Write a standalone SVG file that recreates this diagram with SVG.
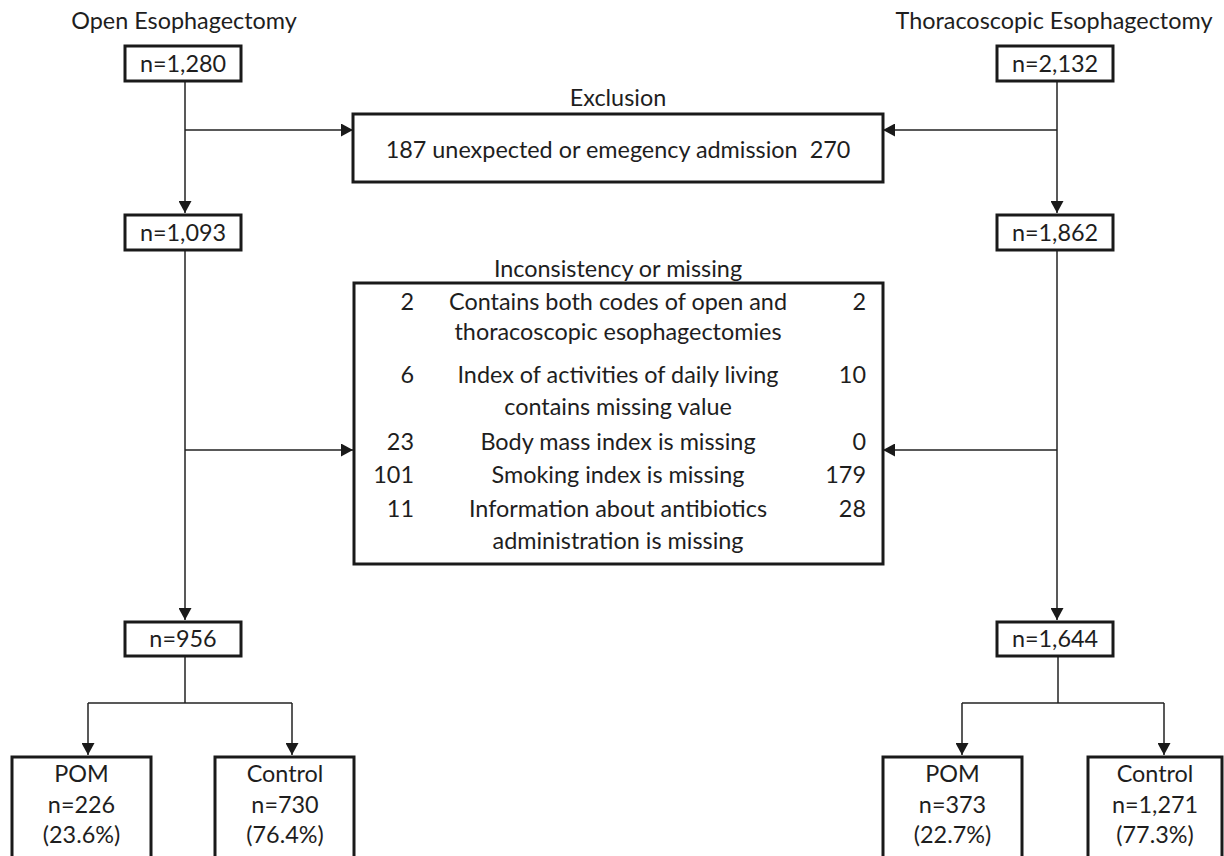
<svg xmlns="http://www.w3.org/2000/svg" width="1224" height="856" viewBox="0 0 1224 856">
<style>
text{font-family:Lato,"Noto Sans",sans-serif;font-size:23.4px;fill:#1e1e1e;}
.c{text-anchor:middle;}
.e{text-anchor:end;}
.box{fill:#fff;stroke:#1a1a1a;stroke-width:3;}
.ln{fill:none;stroke:#222;stroke-width:1.5;}
</style>
<defs>
<marker id="ah" markerUnits="userSpaceOnUse" markerWidth="12" markerHeight="13" refX="12" refY="6.5" orient="auto">
<path d="M0,0 L12,6.5 L0,13 z" fill="#1a1a1a"/>
</marker>
</defs>
<rect width="1224" height="856" fill="#fff"/>
<g id="connectors">
<path class="ln" d="M185,81 V213" marker-end="url(#ah)"/>
<path class="ln" d="M185,130 H353" marker-end="url(#ah)"/>
<path class="ln" d="M1057,81 V213" marker-end="url(#ah)"/>
<path class="ln" d="M1057,130 H883" marker-end="url(#ah)"/>
<path class="ln" d="M185,250 V620" marker-end="url(#ah)"/>
<path class="ln" d="M185,450 H353" marker-end="url(#ah)"/>
<path class="ln" d="M1057,250 V620" marker-end="url(#ah)"/>
<path class="ln" d="M1057,450 H883" marker-end="url(#ah)"/>
<path class="ln" d="M185,656 V703"/>
<path class="ln" d="M88,703 H292"/>
<path class="ln" d="M88,703 V755" marker-end="url(#ah)"/>
<path class="ln" d="M292,703 V755" marker-end="url(#ah)"/>
<path class="ln" d="M1058,656 V703"/>
<path class="ln" d="M962,703 H1164"/>
<path class="ln" d="M962,703 V755" marker-end="url(#ah)"/>
<path class="ln" d="M1164,703 V755" marker-end="url(#ah)"/>
</g>
<g id="label-open"><text class="c" x="184" y="29">Open Esophagectomy</text></g>
<g id="label-thoraco"><text class="c" x="1054" y="29">Thoracoscopic Esophagectomy</text></g>
<g id="open-1280"><rect class="box" x="125" y="46" width="116" height="35"/><text class="c" x="183" y="72">n=1,280</text></g>
<g id="thoraco-2132"><rect class="box" x="997" y="46" width="116" height="35"/><text class="c" x="1055" y="72">n=2,132</text></g>
<g id="exclusion">
<text class="c" x="618" y="106">Exclusion</text>
<rect class="box" x="353" y="114" width="530" height="68"/>
<text class="c" x="618" y="158" xml:space="preserve">187 unexpected or emegency admission  270</text>
</g>
<g id="open-1093"><rect class="box" x="125" y="215" width="116" height="35"/><text class="c" x="183" y="241">n=1,093</text></g>
<g id="thoraco-1862"><rect class="box" x="997" y="215" width="116" height="35"/><text class="c" x="1055" y="241">n=1,862</text></g>
<g id="inconsistency">
<text class="c" x="618" y="277">Inconsistency or missing</text>
<rect class="box" x="354" y="283" width="529" height="281"/>
<text class="e" x="414" y="310">2</text><text class="c" x="618" y="310">Contains both codes of open and</text><text class="e" x="866" y="310">2</text>
<text class="c" x="618" y="340">thoracoscopic esophagectomies</text>
<text class="e" x="414" y="383">6</text><text class="c" x="618" y="383">Index of activities of daily living</text><text class="e" x="866" y="383">10</text>
<text class="c" x="618" y="415">contains missing value</text>
<text class="e" x="414" y="450">23</text><text class="c" x="618" y="450">Body mass index is missing</text><text class="e" x="866" y="450">0</text>
<text class="e" x="414" y="483">101</text><text class="c" x="618" y="483">Smoking index is missing</text><text class="e" x="866" y="483">179</text>
<text class="e" x="414" y="517">11</text><text class="c" x="618" y="517">Information about antibiotics</text><text class="e" x="866" y="517">28</text>
<text class="c" x="618" y="549">administration is missing</text>
</g>
<g id="open-956"><rect class="box" x="125" y="622" width="116" height="34"/><text class="c" x="183" y="647">n=956</text></g>
<g id="thoraco-1644"><rect class="box" x="997" y="622" width="116" height="34"/><text class="c" x="1055" y="647">n=1,644</text></g>
<g id="open-pom"><rect class="box" x="12" y="757" width="139" height="110"/><text class="c" x="81.5" y="782">POM</text><text class="c" x="81.5" y="813">n=226</text><text class="c" x="81.5" y="843">(23.6%)</text></g>
<g id="open-control"><rect class="box" x="215" y="757" width="139" height="110"/><text class="c" x="285" y="782">Control</text><text class="c" x="285" y="813">n=730</text><text class="c" x="285" y="843">(76.4%)</text></g>
<g id="thoraco-pom"><rect class="box" x="883" y="757" width="139" height="110"/><text class="c" x="952.5" y="782">POM</text><text class="c" x="952.5" y="813">n=373</text><text class="c" x="952.5" y="843">(22.7%)</text></g>
<g id="thoraco-control"><rect class="box" x="1088" y="757" width="134" height="110"/><text class="c" x="1155" y="782">Control</text><text class="c" x="1155" y="813">n=1,271</text><text class="c" x="1155" y="843">(77.3%)</text></g>
</svg>
